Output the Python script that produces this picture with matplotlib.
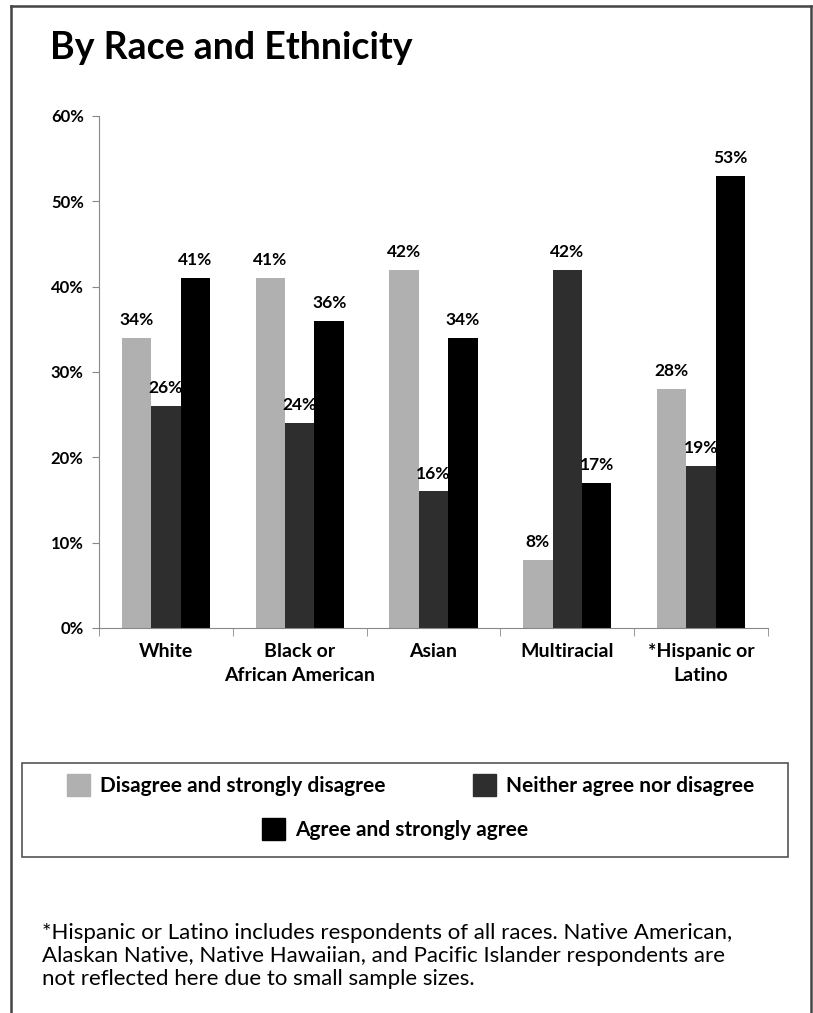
import numpy as np
import matplotlib.pyplot as plt
from matplotlib.lines import Line2D
from matplotlib.patches import Patch

categories = ['White', 'Black or\nAfrican American', 'Asian', 'Multiracial', '*Hispanic or\nLatino']
series_names = ['Disagree and strongly disagree', 'Neither agree nor disagree', 'Agree and strongly agree']
disagree = [34, 41, 42, 8, 28]
neither = [26, 24, 16, 42, 19]
agree = [41, 36, 34, 17, 53]
yticks = [0, 10, 20, 30, 40, 50, 60]

colors = ['#b0b0b0', '#2e2e2e', '#000000']
plt.rcParams['font.family'] = ['Lato', 'DejaVu Sans']

fig = plt.figure(figsize=(8.13, 10.13), dpi=100)
ax = fig.add_axes([0.1218, 0.3801, 0.8229, 0.5054])

x = np.arange(len(categories))
w = 0.22
for i, vals in enumerate([disagree, neither, agree]):
    bars = ax.bar(x + (i - 1) * w, vals, w, color=colors[i], label=series_names[i], zorder=2)
    for b, v in zip(bars, vals):
        ax.annotate(f'{v}%', (b.get_x() + b.get_width() / 2, v), xytext=(0, 7),
                    textcoords='offset points', ha='center', va='bottom',
                    fontsize=12.5, fontweight='bold')

ax.set_xlim(-0.5, len(categories) - 0.5)
ax.set_ylim(0, 60)
ax.set_yticks(yticks)
ax.set_yticklabels([f'{t}%' for t in yticks], fontsize=12, fontweight='bold')
ax.set_xticks(x)
ax.set_xticklabels(categories, fontsize=14, fontweight='bold', linespacing=1.45)
ax.tick_params(axis='x', length=0, pad=11)
ax.tick_params(axis='y', length=5, color='#888888', pad=6)
# category separator ticks
ax.set_xticks(np.arange(-0.5, len(categories)), minor=True)
ax.tick_params(axis='x', which='minor', length=6, color='#888888')
for s in ['top', 'right']:
    ax.spines[s].set_visible(False)
for s in ['left', 'bottom']:
    ax.spines[s].set_color('#888888')

fig.text(0.0615, 0.9526, 'By Race and Ethnicity', fontsize=27, fontweight='bold', va='center')

# legend box
handles = [Patch(color=c) for c in colors]
leg = fig.legend(handles[:2], series_names[:2], loc='center', bbox_to_anchor=(0.505, 0.225),
                 ncol=2, frameon=False, fontsize=15, columnspacing=4.2,
                 handlelength=1.1, handleheight=1.3, handletextpad=0.5)
for t in leg.get_texts():
    t.set_fontweight('bold')
leg2 = fig.legend(handles[2:], series_names[2:], loc='center', bbox_to_anchor=(0.486, 0.1816),
                  frameon=False, fontsize=15, handlelength=1.1, handleheight=1.3, handletextpad=0.5)
for t in leg2.get_texts():
    t.set_fontweight('bold')
fig.add_artist(plt.Rectangle((22 / 813, 1 - 857 / 1013), (788 - 22) / 813, (857 - 763) / 1013,
                             transform=fig.transFigure, fill=False, edgecolor='#555555', lw=1.2))

fig.text(42 / 813, 1 - 923 / 1013,
         '*Hispanic or Latino includes respondents of all races. Native American,\n'
         'Alaskan Native, Native Hawaiian, and Pacific Islander respondents are\n'
         'not reflected here due to small sample sizes.',
         fontsize=16, va='top', linespacing=1.2)

# outer border (open at bottom)
for xs, ys in [([11, 11], [1013, 6]), ([11, 811], [6, 6]), ([811, 811], [6, 1013])]:
    fig.add_artist(Line2D([v / 813 for v in xs], [1 - v / 1013 for v in ys],
                          transform=fig.transFigure, color='#444444', lw=1.8))

fig.savefig('out.png', dpi=100)
